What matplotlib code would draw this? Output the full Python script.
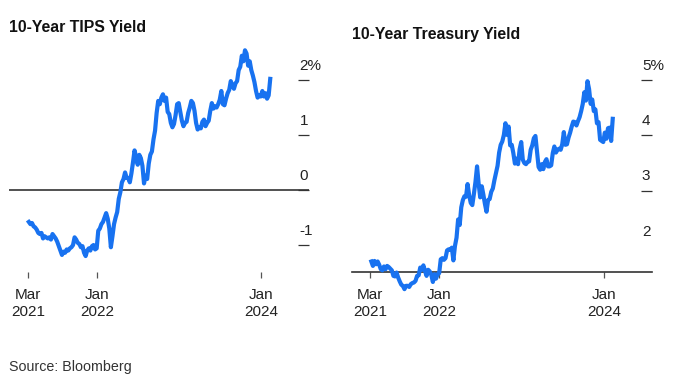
import pandas as pd
import matplotlib
matplotlib.use('Agg')
import matplotlib.pyplot as plt
import matplotlib.transforms as mtransforms

plt.rcParams['font.family'] = ['Liberation Sans', 'DejaVu Sans']

# weekly readings (Fridays), Mar 2021 - Feb 2024
tips_2021 = [-0.58, -0.62, -0.60, -0.66,
             -0.68, -0.72, -0.78, -0.80, -0.78,
             -0.88, -0.84, -0.86, -0.88,
             -0.86, -0.90, -0.80, -0.84,
             -0.88, -0.94, -1.02, -1.10, -1.18,
             -1.12, -1.14, -1.08, -1.10,
             -1.06, -1.04, -1.00, -0.86,
             -0.90, -0.96, -0.98, -1.04, -1.02,
             -1.14, -1.20, -1.10, -1.06,
             -1.10, -1.02, -1.00, -1.08, -1.06]
tips_2022 = [-0.74, -0.70, -0.62, -0.58,
             -0.50, -0.42, -0.52, -0.70,
             -1.04, -0.84, -0.62, -0.50,
             -0.40, -0.16, -0.04, 0.14, 0.20,
             0.32, 0.22, 0.22, 0.14,
             0.30, 0.50, 0.72, 0.60,
             0.46, 0.64, 0.58, 0.44, 0.12,
             0.26, 0.20, 0.48, 0.64,
             0.70, 0.92, 1.08, 1.40, 1.62,
             1.56, 1.68, 1.74, 1.62,
             1.68, 1.42, 1.38, 1.22,
             1.14, 1.20, 1.36, 1.56, 1.58]
tips_2023 = [1.42, 1.26, 1.16, 1.22,
             1.24, 1.40, 1.50, 1.62,
             1.58, 1.44, 1.22, 1.10, 1.14,
             1.12, 1.24, 1.28, 1.16,
             1.22, 1.26, 1.44, 1.58,
             1.48, 1.52, 1.50, 1.56, 1.64,
             1.80, 1.56, 1.54, 1.66,
             1.76, 1.82, 1.98, 1.90,
             1.84, 1.94, 1.98, 2.18, 2.24,
             2.44, 2.34, 2.54, 2.48,
             2.26, 2.34, 2.18, 2.08,
             1.96, 1.80, 1.68, 1.72, 1.70]
tips_2024 = [1.80, 1.70, 1.76, 1.66, 1.72, 2.02]

tsy_2021 = [1.72, 1.64, 1.73, 1.67,
            1.72, 1.66, 1.58, 1.56, 1.63,
            1.58, 1.64, 1.62, 1.59,
            1.56, 1.46, 1.45, 1.52,
            1.43, 1.36, 1.30, 1.28, 1.22,
            1.28, 1.28, 1.26, 1.31,
            1.33, 1.34, 1.37, 1.46,
            1.47, 1.61, 1.57, 1.65, 1.55,
            1.46, 1.57, 1.54, 1.48,
            1.35, 1.49, 1.41, 1.49, 1.51]
tsy_2022 = [1.76, 1.78, 1.75, 1.78,
            1.92, 1.94, 1.93, 1.97,
            1.74, 2.00, 2.15, 2.48,
            2.38, 2.70, 2.83, 2.90, 2.89,
            3.12, 2.92, 2.78, 2.74,
            2.94, 3.16, 3.44, 3.13,
            2.88, 3.08, 2.93, 2.76, 2.62,
            2.83, 2.85, 2.98, 3.04,
            3.19, 3.32, 3.45, 3.69, 3.83,
            3.89, 4.01, 4.22, 4.01,
            4.16, 3.82, 3.83, 3.68,
            3.49, 3.58, 3.48, 3.75, 3.88]
tsy_2023 = [3.56, 3.50, 3.48, 3.52,
            3.53, 3.74, 3.82, 3.95,
            3.99, 3.70, 3.43, 3.38, 3.48,
            3.39, 3.52, 3.57, 3.44,
            3.44, 3.46, 3.68, 3.80,
            3.69, 3.74, 3.76, 3.74, 3.84,
            4.06, 3.83, 3.84, 3.96,
            4.05, 4.16, 4.25, 4.24,
            4.18, 4.26, 4.33, 4.44, 4.57,
            4.78, 4.63, 4.98, 4.84,
            4.57, 4.65, 4.44, 4.47,
            4.22, 4.24, 3.92, 3.90, 3.88]
tsy_2024 = [4.05, 3.94, 4.13, 4.14, 3.90, 4.30]

tips = tips_2021 + tips_2022 + tips_2023 + tips_2024
tsy = tsy_2021 + tsy_2022 + tsy_2023 + tsy_2024
dates = pd.date_range('2021-03-05', periods=len(tips), freq='W-FRI')

xtick_dates = pd.to_datetime(['2021-03-01', '2022-01-01', '2024-01-01'])
xtick_labels = ['Mar\n2021', 'Jan\n2022', 'Jan\n2024']
tips_ticks = [2, 1, 0, -1]
tips_labels = ['2%', '1', '0', '-1']
tsy_ticks = [5, 4, 3, 2]
tsy_labels = ['5%', '4', '3', '2']

blue = '#1872f0'
dark = '#222222'
W, H = 683, 383
fig = plt.figure(figsize=(W / 100, H / 100), dpi=100)

xlim = (pd.Timestamp('2020-12-07'), pd.Timestamp('2024-07-30'))


def make_axes(left_px, ylim):
    ax = fig.add_axes([left_px / W, 1 - 272 / H, 300 / W, 227 / H])
    ax.set_xlim(*xlim)
    ax.set_ylim(*ylim)
    for s in ['top', 'left', 'right']:
        ax.spines[s].set_visible(False)
    ax.spines['bottom'].set_color('#333333')
    ax.spines['bottom'].set_linewidth(1.2)
    ax.set_xticks(xtick_dates)
    ax.set_xticklabels(xtick_labels, fontsize=11, color=dark, linespacing=1.25)
    ax.tick_params(axis='x', direction='out', length=4.5, width=0.9,
                   color='#555555', pad=7)
    ax.yaxis.tick_right()
    ax.tick_params(axis='y', direction='in', length=8, width=0.9,
                   color='#333333', labelright=False)
    ax.patch.set_visible(False)
    return ax


# TIPS panel
ax1 = make_axes(9, (-1.49, 2.636))
ax1.spines['bottom'].set_visible(False)
ax1.axhline(0, color='#333333', lw=1.2, zorder=1)
ax1.set_yticks([2, 1, 0, -1])
ax1.plot(dates, tips, color=blue, lw=3, solid_joinstyle='round', zorder=3)
tr1 = mtransforms.blended_transform_factory(ax1.transAxes, ax1.transData)
for v, lab in zip(tips_ticks, tips_labels):
    ax1.text(0.968, v + 0.26, lab, transform=tr1, ha='left', va='center',
             fontsize=11, color=dark)

# Treasury panel
ax2 = make_axes(351.5, (1.53, 5.635))
ax2.set_yticks([5, 4, 3])
ax2.plot(dates, tsy, color=blue, lw=3, solid_joinstyle='round',
         zorder=3, clip_on=False)
tr2 = mtransforms.blended_transform_factory(ax2.transAxes, ax2.transData)
for v, lab in zip(tsy_ticks, tsy_labels):
    ax2.text(0.968, v + 0.26, lab, transform=tr2, ha='left', va='center',
             fontsize=11, color=dark)

fig.text(9 / W, 1 - 27 / H, '10-Year TIPS Yield', fontsize=11.4,
         fontweight='bold', color='#111111', va='center', ha='left')
fig.text(352 / W, 1 - 35 / H, '10-Year Treasury Yield', fontsize=11.4,
         fontweight='bold', color='#111111', va='center', ha='left')
fig.text(9 / W, 1 - 367 / H, 'Source: Bloomberg', fontsize=10.3,
         color='#333333', va='center', ha='left')

fig.savefig('out.png', dpi=100, facecolor='white')
